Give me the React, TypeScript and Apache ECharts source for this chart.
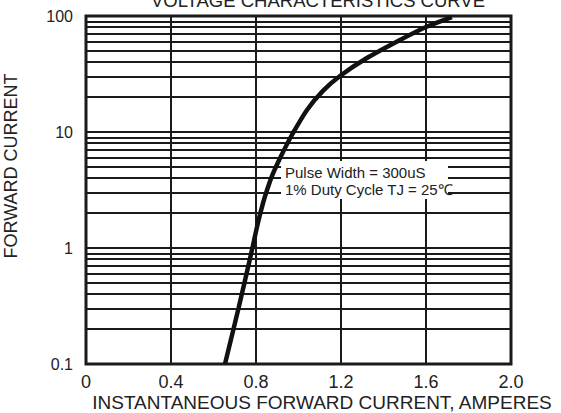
import React, { useEffect, useRef } from "react";
import * as echarts from "echarts";

// Curve: forward voltage (x) vs forward current (y, log)
const voltage = [0.654, 0.718, 0.781, 0.809, 0.833, 0.852, 0.875, 0.918, 0.969, 1.04, 1.115, 1.195, 1.318, 1.473, 1.6, 1.722];
const current = [0.1, 0.304, 0.961, 1.64, 2.44, 3.16, 4.17, 6.21, 9.42, 15.5, 22.6, 30.4, 43.0, 61.5, 80.4, 98.0];

const xTickLabels = ["0", "0.4", "0.8", "1.2", "1.6", "2.0"];
const yTickValues = [0.1, 1, 10, 100];
const minorGridValues = [
  0.2, 0.3, 0.4, 0.5, 0.6, 0.7, 0.8, 0.9,
  2, 3, 4, 5, 6, 7, 8, 9,
  20, 30, 40, 50, 60, 70, 80, 90,
];

const titleText = "VOLTAGE CHARACTERISTICS CURVE";
const xName = "INSTANTANEOUS FORWARD CURRENT, AMPERES";
const yName = "FORWARD CURRENT";
const noteLines = ["Pulse Width = 300uS", "1% Duty Cycle TJ = 25\u2103"];

const FONT = "'Liberation Sans', Arial, Helvetica, sans-serif";
const INK = "#1a1a1a";
const TEXT = "#222";

export default function App() {
  const ref = useRef<HTMLDivElement>(null);
  useEffect(() => {
    if (!ref.current) return;
    const chart = echarts.init(ref.current, undefined, { renderer: "svg" });
    chart.setOption({
      animation: false,
      backgroundColor: "#fff",
      textStyle: { fontFamily: FONT },
      grid: {
        left: 86,
        right: 50,
        top: 16,
        bottom: 49,
        show: true,
        borderColor: INK,
        borderWidth: 3,
        backgroundColor: "#fff",
      },
      xAxis: {
        type: "value",
        min: 0,
        max: 2,
        interval: 0.4,
        axisLine: { show: false },
        axisTick: { show: false },
        axisLabel: {
          fontSize: 18,
          margin: 9,
          color: TEXT,
          fontFamily: FONT,
          formatter: (_v: number, i: number) => xTickLabels[i],
        },
        splitLine: { show: true, lineStyle: { color: INK, width: 2 } },
      },
      yAxis: {
        type: "log",
        logBase: 10,
        min: yTickValues[0],
        max: yTickValues[yTickValues.length - 1],
        axisLine: { show: false },
        axisTick: { show: false },
        axisLabel: {
          fontSize: 16,
          margin: 13,
          color: TEXT,
          fontFamily: FONT,
          formatter: (v: number) => String(+Number(v).toPrecision(3)),
        },
        splitLine: { show: true, lineStyle: { color: INK, width: 2 } },
      },
      series: [
        {
          type: "line",
          z: 1,
          data: [],
          silent: true,
          markLine: {
            silent: true,
            z: 5,
            symbol: ["none", "none"],
            label: { show: false },
            lineStyle: { color: INK, width: 2, type: "solid" },
            emphasis: { disabled: true },
            data: minorGridValues.map((v) => ({ yAxis: v })),
          },
        },
        {
          type: "line",
          z: 40,
          data: voltage.map((v, i) => [v, current[i]]),
          smooth: 0.3,
          showSymbol: false,
          lineStyle: { color: "#111", width: 4.5 },
          clip: true,
        },
      ],
      graphic: [
        {
          type: "text",
          z: 20,
          x: 318,
          y: 0,
          style: {
            text: titleText,
            font: `18.5px ${FONT}`,
            fill: TEXT,
            textAlign: "center",
            textVerticalAlign: "middle",
          },
        },
        {
          type: "text",
          z: 20,
          x: 322,
          y: 402,
          style: {
            text: xName,
            font: `19px ${FONT}`,
            fill: TEXT,
            textAlign: "center",
            textVerticalAlign: "middle",
          },
        },
        {
          type: "text",
          z: 20,
          x: 11,
          y: 166,
          rotation: Math.PI / 2,
          style: {
            text: yName,
            font: `18px ${FONT}`,
            fill: TEXT,
            textAlign: "center",
            textVerticalAlign: "middle",
          },
        },
        {
          type: "rect",
          z: 20,
          shape: { x: 281, y: 161, width: 167, height: 38 },
          style: { fill: "#fff" },
        },
        {
          type: "text",
          z: 21,
          x: 285,
          y: 172,
          style: {
            text: noteLines[0],
            font: `15px ${FONT}`,
            fill: TEXT,
            textAlign: "left",
            textVerticalAlign: "middle",
          },
        },
        {
          type: "text",
          z: 21,
          x: 285,
          y: 189.5,
          style: {
            text: noteLines[1],
            font: `15px ${FONT}`,
            fill: TEXT,
            textAlign: "left",
            textVerticalAlign: "middle",
          },
        },
      ],
    });
    return () => chart.dispose();
  }, []);
  return (
    <div
      ref={ref}
      style={{ position: "fixed", left: 0, top: 0, width: 561, height: 413 }}
    />
  );
}
